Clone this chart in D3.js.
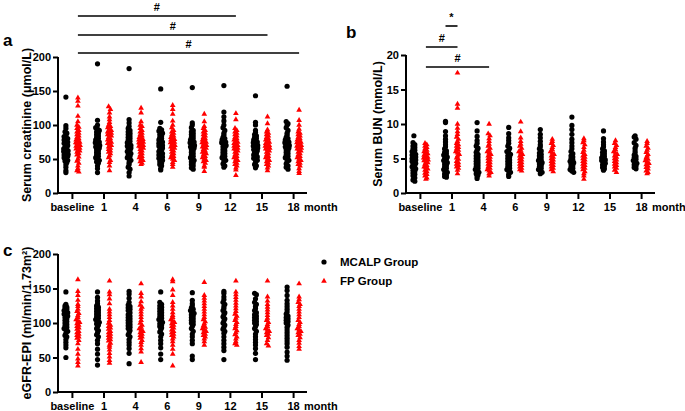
<!DOCTYPE html>
<html><head><meta charset="utf-8">
<script src="https://cdn.jsdelivr.net/npm/d3@7"></script>
<style>
body{margin:0;background:#fff;}
svg text{font-family:"Liberation Sans",Arial,sans-serif;font-weight:bold;fill:#000;}
</style></head>
<body><svg id="chart" width="685" height="411"></svg>
<script>
// ---------- data ----------
const months = ["baseline","1","4","6","9","12","15","18"];
const groups = ["MCALP Group","FP Group"];

const creatinineMCALP = [
 [141,99,95,90,88,85,83,82,80,78,76,75,73,72,70,68,67,65,64,63,62,61,60,58,57,56,55,54,52,50,48,47,45,42,38,33,30],
 [190,107,100,96,94,92,90,88,86,84,82,80,78,76,75,74,72,71,70,68,67,66,64,62,60,58,56,54,52,50,48,46,44,40,36,30],
 [183,108,103,98,95,92,90,88,86,84,82,80,78,76,74,72,70,69,68,66,65,63,61,60,58,56,54,52,50,48,45,42,38,35,30,25],
 [153,104,95,93,91,90,88,86,84,82,80,78,76,75,73,72,70,69,67,66,64,63,61,60,58,56,55,53,51,50,48,46,44,42,40,36,34],
 [155,103,100,96,92,90,88,86,84,82,80,78,76,75,74,72,71,70,68,67,66,64,62,60,58,56,54,52,50,48,46,44,42,40,37,35],
 [158,119,112,106,100,96,92,88,85,82,80,78,76,75,74,73,72,71,70,68,66,64,62,60,58,56,54,52,50,48,46,43,40,38],
 [143,104,100,92,89,86,84,82,80,78,76,75,74,73,72,70,69,68,67,66,64,63,62,60,58,56,55,53,51,50,48,45,42,40,37],
 [157,105,102,100,96,92,88,85,82,80,78,76,75,74,73,72,71,70,68,67,66,64,62,60,58,56,54,52,50,48,46,43,40,38,35]
];
const creatinineFP = [
 [140,135,128,113,105,100,97,95,92,90,88,86,84,82,80,78,77,75,74,73,72,70,69,68,66,65,63,62,60,58,56,53,50,47,44,40,36,33,31],
 [127,123,118,112,108,104,100,98,96,94,92,90,89,88,86,85,84,82,80,78,77,75,73,72,70,68,66,64,62,60,58,55,52,48,45,40,33],
 [125,118,105,100,98,95,92,90,88,86,84,82,80,79,78,77,76,75,74,73,72,71,70,69,68,67,66,64,62,60,58,56,54,52,50,48,46,44,42],
 [129,123,116,106,100,96,92,90,88,86,84,82,80,79,78,76,75,74,72,71,70,68,67,66,64,62,60,58,56,54,52,50,48,45,42,38],
 [116,105,98,95,92,90,88,86,84,82,80,78,77,75,74,72,71,70,68,67,66,64,62,60,59,58,56,54,52,50,48,46,44,40,38,32],
 [117,108,95,92,90,88,86,84,82,80,78,76,75,73,72,70,69,68,66,65,64,62,60,58,56,54,52,50,48,46,44,42,40,37,34,26],
 [112,102,93,90,88,86,84,82,80,78,76,75,73,72,70,69,68,67,66,65,64,62,60,58,56,54,52,50,48,46,44,42,40,37,33],
 [122,107,100,94,90,88,86,84,82,80,78,76,75,74,72,71,70,69,68,67,66,65,64,62,60,58,56,54,52,50,48,46,44,42,40,36,32,29]
];

const bunMCALP = [
 [8.3,7.3,7.0,6.8,6.6,6.4,6.2,6.0,5.8,5.6,5.5,5.3,5.2,5.0,4.9,4.8,4.6,4.5,4.3,4.2,4.0,3.8,3.6,3.5,3.3,3.1,2.9,2.7,2.5,2.2,1.9,1.7],
 [10.4,10.2,8.9,8.3,7.8,7.4,7.0,6.7,6.4,6.1,5.9,5.7,5.5,5.3,5.2,5.0,4.9,4.7,4.6,4.4,4.2,4.0,3.8,3.6,3.4,3.2,3.0,2.8,2.6,2.4,2.3],
 [10.2,9.0,8.2,7.6,7.2,6.8,6.5,6.2,5.9,5.6,5.4,5.2,5.0,4.8,4.6,4.4,4.2,4.0,3.8,3.6,3.4,3.2,3.0,2.8,2.6,2.4,2.1],
 [9.5,8.6,8.0,7.6,7.2,6.8,6.5,6.2,6.0,5.8,5.6,5.4,5.2,5.0,4.8,4.6,4.4,4.2,4.0,3.8,3.6,3.4,3.2,3.0,2.7,2.4],
 [9.2,8.5,8.0,7.5,7.0,6.7,6.4,6.1,5.8,5.6,5.4,5.2,5.0,4.8,4.7,4.6,4.4,4.2,4.0,3.8,3.6,3.4,3.2,3.0,2.8],
 [11.0,9.8,9.2,8.5,7.8,7.3,6.8,6.4,6.0,5.7,5.4,5.2,5.0,4.8,4.6,4.5,4.4,4.2,4.0,3.8,3.6,3.4,3.2,3.0],
 [9.0,7.9,7.4,7.0,6.7,6.4,6.1,5.9,5.7,5.5,5.3,5.1,5.0,4.8,4.7,4.5,4.3,4.1,3.9,3.7,3.5,3.3],
 [8.3,8.1,7.8,7.3,6.9,6.5,6.1,5.8,5.5,5.3,5.1,4.9,4.7,4.5,4.3,4.1,3.9,3.7,3.5]
];
const bunFP = [
 [7.2,7.0,6.8,6.6,6.4,6.2,6.0,5.8,5.7,5.5,5.4,5.2,5.1,5.0,4.9,4.8,4.7,4.5,4.4,4.2,4.0,3.8,3.7,3.5,3.3,3.1,2.9,2.7,2.5,2.2,2.0],
 [17.4,12.9,12.3,10.0,9.4,8.9,8.5,8.1,7.8,7.5,7.2,7.0,6.8,6.6,6.4,6.2,6.0,5.8,5.6,5.4,5.1,4.9,4.6,4.4,4.2,4.0,3.8,3.6,3.3,2.8],
 [10.0,8.6,8.3,7.9,7.5,7.1,6.8,6.5,6.2,6.0,5.8,5.6,5.4,5.2,5.0,4.8,4.6,4.4,4.2,4.0,3.8,3.6,3.4,3.2,3.0,2.8,2.5],
 [10.3,8.9,8.0,7.5,7.1,6.8,6.5,6.2,6.0,5.8,5.6,5.4,5.2,5.0,4.8,4.6,4.4,4.2,4.0,3.8,3.6,3.4,3.2],
 [7.8,7.5,7.2,6.9,6.6,6.3,6.0,5.8,5.6,5.4,5.2,5.0,4.8,4.6,4.4,4.2,4.0,3.8,3.6,3.4,3.1],
 [7.9,7.6,7.3,7.0,6.6,6.2,5.9,5.6,5.4,5.2,5.0,4.8,4.6,4.4,4.2,4.0,3.8,3.6,3.4,3.1,2.8,2.5,2.0],
 [7.6,7.2,6.9,6.6,6.3,6.0,5.8,5.6,5.4,5.2,5.0,4.8,4.6,4.4,4.2,4.0,3.8,3.6,3.3,3.0],
 [7.5,7.2,6.8,6.5,6.2,5.9,5.6,5.4,5.1,4.9,4.7,4.5,4.3,4.1,3.9,3.7,3.5,3.2,3.0,2.8]
];

const egfrMCALP = [
 [145,127,125,123,122,120,118,117,115,113,112,110,108,106,104,102,100,98,96,94,92,90,88,85,82,80,76,72,68,64,50],
 [145,137,132,128,125,123,121,119,117,115,113,111,109,107,105,103,101,99,97,95,92,89,86,83,80,75,70,62,55,47,39],
 [146,142,136,130,126,124,122,120,118,115,112,110,108,106,104,102,100,98,96,94,92,89,86,83,80,76,72,68,63,56,41],
 [145,130,127,125,123,121,119,117,115,113,111,109,107,105,103,101,99,97,95,93,90,87,84,80,75,70,64,55,47],
 [144,133,128,125,122,120,118,116,114,112,110,108,106,104,102,100,98,95,92,88,84,80,75,70,52,47],
 [146,143,138,134,130,127,124,121,118,115,112,109,106,103,100,97,94,91,88,85,80,75,70,65,60,47],
 [143,141,135,130,127,124,121,118,115,112,110,108,106,104,102,100,98,95,92,88,84,80,76,72,68,63,56,47],
 [152,147,140,133,128,124,120,116,113,110,108,106,104,102,100,97,94,90,86,82,78,74,70,65,58,52,46]
];
const egfrFP = [
 [163,146,140,133,127,124,120,117,114,111,108,105,103,101,99,97,95,93,91,88,86,84,82,80,78,75,70,62,55,48,43,38],
 [161,145,141,135,128,120,116,112,108,104,100,97,95,93,91,88,86,84,82,80,78,76,74,71,68,65,61,56,51,46,42],
 [157,143,138,131,126,123,120,116,112,108,104,100,97,94,92,90,88,86,84,82,80,78,75,72,68,63,58,43],
 [163,160,148,140,130,125,120,115,111,108,105,103,101,99,97,95,93,90,88,86,84,82,80,77,73,68,62,55,38],
 [159,140,136,132,128,124,120,116,112,108,105,102,99,96,94,92,90,88,86,84,82,80,77,73,68],
 [161,145,141,137,133,129,125,121,117,113,110,107,104,101,98,95,92,89,86,83,80,77,73,70,68],
 [161,138,132,127,123,119,115,111,107,104,101,98,95,92,90,88,86,84,82,79,75,70,67],
 [157,138,134,130,127,124,120,116,112,108,104,101,98,95,92,90,88,86,84,82,79,75,71,66,62]
];

const creatinineTicks = [0,50,100,150,200];
const bunTicks = [0,5,10,15,20];
const egfrTicks = [0,50,100,150,200];

// significance brackets: [fromMonthIndex, fromGroup, toMonthIndex, toGroup, label]
const creatinineSig = [[0,1,5,1,"#"],[0,1,6,1,"#"],[0,1,7,1,"#"]];
const bunSig = [[1,0,1,1,"*"],[0,1,1,1,"#"],[0,1,2,1,"#"]];

// ---------- drawing ----------
const svg = d3.select("#chart");
const colors = ["#000000","#ff0000"];
const groupOffset = [-6, 6];

// symmetric row-binned scatter (Prism-style)
function swarm(vals, y) {
  const bin = 3;
  const bins = d3.group(vals.map((v,i)=>i), i => Math.round(y(vals[i]) / bin));
  const res = new Array(vals.length);
  for (const [, idx] of bins) {
    const k = idx.length;
    const gap = k > 1 ? Math.min(1.8, 4.4/(k-1)) : 0;
    idx.forEach((i,j)=>{ res[i] = (j - (k-1)/2) * gap; });
  }
  return res;
}

function panel(opt) {
  const g = svg.append("g");
  const x = d3.scalePoint().domain(months).range([opt.x0, opt.x1]).padding(0.44);
  const y = d3.scaleLinear().domain([0, opt.max]).range([opt.yb, opt.yt]);

  // axes
  const ya = g.append("g").attr("transform",`translate(${opt.x0},0)`)
    .call(d3.axisLeft(y).tickValues(opt.ticks).tickSize(5).tickPadding(2));
  const xa = g.append("g").attr("transform",`translate(0,${opt.yb})`)
    .call(d3.axisBottom(x).tickSize(6).tickPadding(4));
  [ya, xa].forEach(a=>{
    a.select(".domain").attr("stroke","#000").attr("stroke-width",2);
    a.selectAll(".tick line").attr("stroke","#000").attr("stroke-width",2);
    a.selectAll(".tick text").style("font-size","11px").style("font-weight","bold")
      .style("font-family","'Liberation Sans',Arial,sans-serif").attr("fill","#000");
  });
  xa.select(".domain").attr("d",`M${opt.x0},0H${opt.x1}`);
  ya.select(".domain").attr("d",`M0,${opt.yt}V${opt.yb}`);

  g.append("text").attr("x", opt.x1 - 3).attr("y", opt.yb + 18)
    .style("font-size","11px").text("month");

  // y title
  g.append("text").attr("transform",`translate(${opt.titleX},${(opt.yt+opt.yb)/2}) rotate(-90)`)
    .attr("text-anchor","middle").style("font-size","12.5px").text(opt.title);
  // panel letter
  g.append("text").attr("x",opt.letterX).attr("y",opt.letterY)
    .style("font-size","17px").text(opt.letter);

  // points
  [opt.a, opt.b].forEach((series, gi)=>{
    series.forEach((vals, mi)=>{
      const cx = x(months[mi]) + groupOffset[gi];
      const offs = swarm(vals, y);
      const sel = g.selectAll(null).data(vals).enter();
      if (gi===0) {
        sel.append("circle").attr("cx",(d,i)=>cx+offs[i]).attr("cy",d=>y(d))
          .attr("r",2.6).attr("fill",colors[0]);
      } else {
        sel.append("path").attr("d",d3.symbol(d3.symbolTriangle,14))
          .attr("transform",(d,i)=>`translate(${cx+offs[i]},${y(d)})`)
          .attr("fill",colors[1]);
      }
    });
  });

  // significance
  (opt.sig||[]).forEach((s,k)=>{
    const xa0 = x(months[s[0]]) + groupOffset[s[1]];
    const xa1 = x(months[s[2]]) + groupOffset[s[3]];
    const ly = opt.sigY[k];
    g.append("line").attr("x1",xa0).attr("x2",xa1).attr("y1",ly).attr("y2",ly)
      .attr("stroke","#000").attr("stroke-width",1.6);
    g.append("text").attr("x",(xa0+xa1)/2).attr("y",ly-5).attr("text-anchor","middle")
      .style("font-size","11px").text(s[4]);
  });
}

panel({x0:58,x1:307,yb:193,yt:57,max:200,ticks:creatinineTicks,a:creatinineMCALP,b:creatinineFP,
  title:"Serum creatinine (μmol/L)",titleX:31,letter:"a",letterX:3,letterY:46,
  sig:creatinineSig,sigY:[16,35,53]});
panel({x0:406,x1:655,yb:193,yt:55,max:20,ticks:bunTicks,a:bunMCALP,b:bunFP,
  title:"Serum BUN (mmol/L)",titleX:382,letter:"b",letterX:346,letterY:38,
  sig:bunSig,sigY:[26,47,67]});
panel({x0:58,x1:307,yb:392,yt:254,max:200,ticks:egfrTicks,a:egfrMCALP,b:egfrFP,
  title:"eGFR-EPI (ml/min/1.73m²)",titleX:31,letter:"c",letterX:3,letterY:256});

// legend
const lg = svg.append("g");
groups.forEach((name,i)=>{
  const ly = 262 + i*19;
  if (i===0) lg.append("circle").attr("cx",324).attr("cy",ly).attr("r",2.6).attr("fill",colors[0]);
  else lg.append("path").attr("d",d3.symbol(d3.symbolTriangle,14)).attr("transform",`translate(324,${ly})`).attr("fill",colors[1]);
  lg.append("text").attr("x",340).attr("y",ly).attr("dy","0.35em").style("font-size","11.5px").text(name);
});
</script></body></html>
